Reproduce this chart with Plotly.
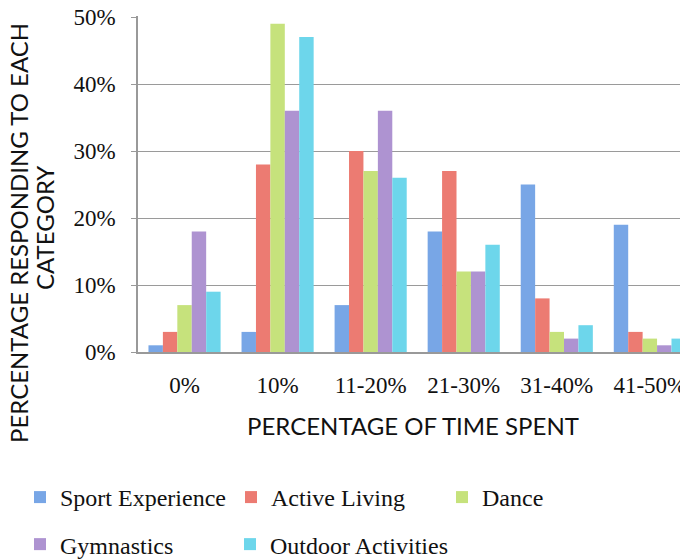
import plotly.graph_objects as go

categories = ["0%", "10%", "11-20%", "21-30%", "31-40%", "41-50%"]
sport_experience = [0.01, 0.03, 0.07, 0.18, 0.25, 0.19]
active_living = [0.03, 0.28, 0.30, 0.27, 0.08, 0.03]
dance = [0.07, 0.49, 0.27, 0.12, 0.03, 0.02]
gymnastics = [0.18, 0.36, 0.36, 0.12, 0.02, 0.01]
outdoor_activities = [0.09, 0.47, 0.26, 0.16, 0.04, 0.02]
y_ticks = [0, 0.1, 0.2, 0.3, 0.4, 0.5]
y_tick_labels = ["0%", "10%", "20%", "30%", "40%", "50%"]

series = [
    ("Sport Experience", sport_experience, "#78a6e6", "legend"),
    ("Active Living", active_living, "#ec7b72", "legend"),
    ("Dance", dance, "#c6e27c", "legend"),
    ("Gymnastics", gymnastics, "#ae93d1", "legend2"),
    ("Outdoor Activities", outdoor_activities, "#6dd6eb", "legend3"),
]

fig = go.Figure()
for name, vals, color, leg in series:
    fig.add_trace(go.Bar(x=categories, y=vals, name=name, legend=leg,
                         marker=dict(color=color, line=dict(width=0))))

serif = "Liberation Serif"
sans = "Lato"
legend_font = dict(family=serif, size=24, color="#111")

fig.update_layout(
    width=680, height=552,
    margin=dict(l=130, r=0, t=8, b=208, autoexpand=False),
    paper_bgcolor="white", plot_bgcolor="white",
    barmode="group", bargap=0.225, bargroupgap=0,
    font=dict(family=serif, size=22, color="#111"),
    xaxis=dict(
        range=[-0.5, 5.41], showgrid=False, showline=True, linecolor="#999",
        linewidth=1.5, ticks="", tickfont=dict(family=serif, size=23, color="#111"),
        ticklabelstandoff=12, automargin=False,
        title=dict(text="PERCENTAGE OF TIME SPENT", font=dict(family=sans, size=24, color="#111"), standoff=21),
    ),
    yaxis=dict(
        range=[0, 0.5015], tickvals=y_ticks, ticktext=y_tick_labels,
        showgrid=True, gridcolor="#9a9a9a", gridwidth=1.3,
        showline=True, linecolor="#999", linewidth=1.5,
        ticks="outside", ticklen=5, tickcolor="#999", tickwidth=1.3,
        tickfont=dict(family=serif, size=23, color="#111"), ticklabelstandoff=11,
        ticklabeloverflow="allow",
        zeroline=False, automargin=False,
    ),
    legend=dict(orientation="h", x=-0.2145, xanchor="left", y=-0.433, yanchor="middle",
                font=legend_font, entrywidth=166, bgcolor="rgba(0,0,0,0)"),
    legend2=dict(orientation="h", x=-0.2145, xanchor="left", y=-0.573, yanchor="middle",
                 font=legend_font, bgcolor="rgba(0,0,0,0)"),
    legend3=dict(orientation="h", x=-0.2145 + 210 / 550, xanchor="left", y=-0.573, yanchor="middle",
                 font=legend_font, bgcolor="rgba(0,0,0,0)"),
    annotations=[
        dict(text="PERCENTAGE RESPONDING TO EACH", textangle=-90, xref="paper", yref="paper",
             x=-119 / 550, y=(352 - 233) / 336, xanchor="center", yanchor="middle",
             showarrow=False, font=dict(family=sans, size=24, color="#111")),
        dict(text="CATEGORY", textangle=-90, xref="paper", yref="paper",
             x=-94 / 550, y=(352 - 228) / 336, xanchor="center", yanchor="middle",
             showarrow=False, font=dict(family=sans, size=24, color="#111")),
    ],
)

fig.write_html("out.html")
